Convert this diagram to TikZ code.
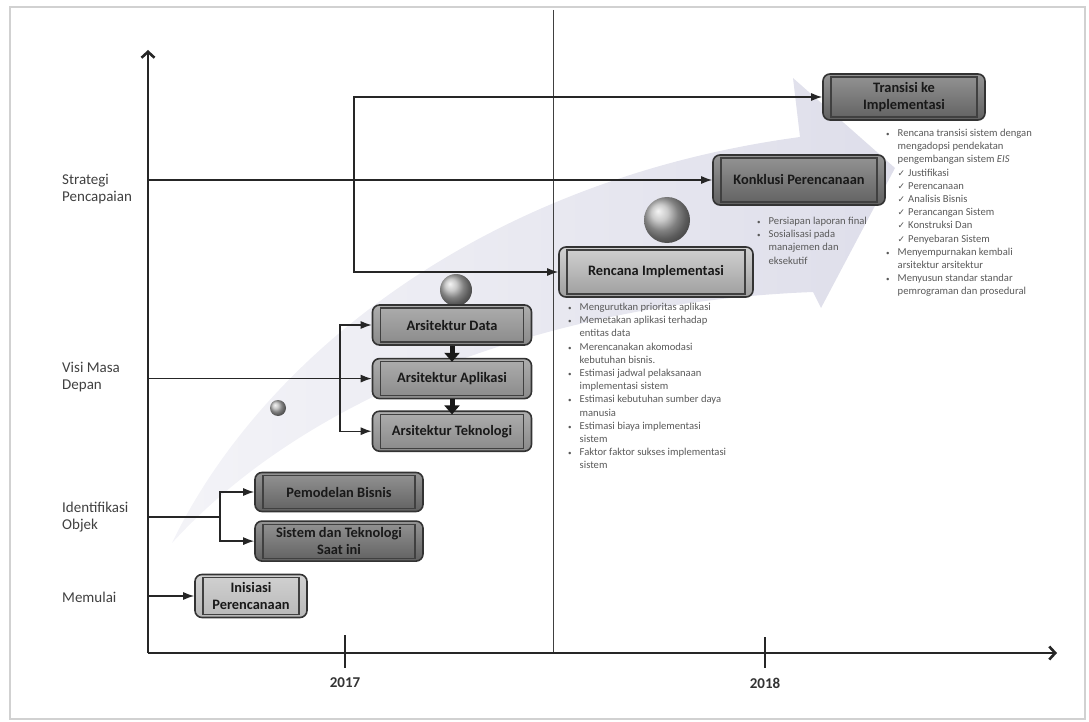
\documentclass[tikz,border=0pt]{standalone}
\usepackage{fontspec}
\setmainfont{Carlito}
\newfontfamily\simbol{DejaVu Sans}
\usetikzlibrary{arrows.meta,positioning}
\definecolor{pita}{RGB}{222,222,234}
\newcommand{\butir}{{\fontsize{7}{7}\selectfont\textbullet}}
\newcommand{\cek}{{\simbol\fontsize{9}{9}\selectfont ✓}\hspace{3pt}}
\tikzset{
  tahap/.style = {draw=black!80, line width=1.6pt, rounded corners=7pt, align=center,
    font=\fontsize{14.4}{17}\selectfont\bfseries, text=black!90, inner sep=2pt,
    path picture={\draw[black!75, line width=1.1pt, sharp corners]
      ([shift={(8pt,-3pt)}]path picture bounding box.north west) rectangle
      ([shift={(-8pt,3pt)}]path picture bounding box.south east);}},
  tahap_g/.style = {tahap, top color=black!42, bottom color=black!62},% tahap gelap
  tahap_s/.style = {tahap, top color=black!32, bottom color=black!46},% tahap sedang
  tahap_t/.style = {tahap, top color=black!18, bottom color=black!38},% tahap terang
  tahap_p/.style = {tahap, top color=black!18, bottom color=black!28},% tahap pucat
  catatan/.style = {anchor=north west, inner sep=0pt, text=black!65,
    font=\fontsize{10.6}{13.2}\selectfont},
  label_y/.style = {anchor=west, align=left, inner sep=0pt, text=black!75,
    font=\fontsize{15}{17.5}\selectfont},
  tahun/.style = {font=\fontsize{15}{17}\selectfont\bfseries, text=black!80},
  hubung/.style = {line width=1.3pt, black!85}
}

\begin{document}
\begin{tikzpicture}[x=1pt,y=-1pt,>={Latex[length=11pt,width=8pt]}]
  \useasboundingbox (0,0) rectangle (1089,722);
  \draw[black!18, line width=1.2pt] (10,7) rectangle (1085,719);

  % panah lengkung di belakang
  \path[left color=pita!35, right color=pita]
    (172,543) .. controls (260,360) and (480,180) .. (800,137) -- (793,78) -- (895,168)
    -- (821,308) -- (813,292) .. controls (600,300) and (330,370) .. (172,543) -- cycle;
  \shade[ball color=black!28] (278,408) circle (8pt);
  \shade[ball color=black!28] (456,290) circle (16pt);
  \shade[ball color=black!28] (667,220) circle (23pt);

  % sumbu
  \coordinate (O) at (148,653);
  \coordinate (ytop) at (148,50);
  \coordinate (xend) at (1057,653);
  \coordinate (batas) at (553,10);
  \draw[black!75, line width=1pt] (batas) -- (batas |- O);

  % tahap
  \node[tahap_g, minimum width=162pt, minimum height=46pt] (Transisi) at (904,97) {Transisi ke\\Implementasi};
  \node[tahap_g, minimum width=172pt, minimum height=50pt] (Konklusi) at (799,180) {Konklusi Perencanaan};
  \node[tahap_t, minimum width=194pt, minimum height=50pt] (Rencana) at (656,272) {Rencana Implementasi};
  \node[tahap_s, minimum width=159pt, minimum height=40pt] (Data) at (452,325) {Arsitektur Data};
  \node[tahap_s, minimum width=159pt, minimum height=40pt, below=12pt of Data] (Aplikasi) {Arsitektur Aplikasi};
  \node[tahap_s, minimum width=159pt, minimum height=40pt, below=11pt of Aplikasi] (Tekno) {Arsitektur Teknologi};
  \node[tahap_g, minimum width=168pt, minimum height=39pt] (Pemodelan) at (339,492) {Pemodelan Bisnis};
  \node[tahap_g, minimum width=168pt, minimum height=40pt, below=8pt of Pemodelan] (Sistem) {Sistem dan Teknologi\\Saat ini};
  \node[tahap_p, minimum width=112pt, minimum height=43pt] (Inisiasi) at (251,596) {Inisiasi\\Perencanaan};

  \draw[black!90, line width=5pt, -{Triangle[length=9pt,width=15pt]}] (Data.south) -- ([yshift=-4pt]Aplikasi.north);
  \draw[black!90, line width=5pt, -{Triangle[length=9pt,width=15pt]}] (Aplikasi.south) -- ([yshift=-4pt]Tekno.north);

  % penghubung
  \coordinate (lup) at (354,182);
  \coordinate (cabArs) at (340,377);
  \coordinate (cabObj) at (220,517);
  \draw[hubung, ->] (O |- Konklusi.west) -- (Konklusi.west);
  \draw[hubung, ->] (lup) |- (Transisi.west);
  \draw[hubung, ->] (lup) |- (Rencana.west);
  \draw[hubung, ->] (O |- Aplikasi.west) -- (Aplikasi.west);
  \draw[hubung, ->] (cabArs) |- (Data.west);
  \draw[hubung, ->] (cabArs) |- (Tekno.west);
  \draw[hubung] (O |- cabObj) -- (cabObj);
  \draw[hubung, ->] (cabObj) |- (Pemodelan.west);
  \draw[hubung, ->] (cabObj) |- (Sistem.west);
  \draw[hubung, ->] (O |- Inisiasi.west) -- (Inisiasi.west);

  % sumbu di atas
  \draw[line width=2.6pt, black!85, -{Straight Barb[length=6pt,width=13pt]}] (O) -- (ytop);
  \draw[line width=2.6pt, black!85, -{Straight Barb[length=6pt,width=13pt]}] (O) -- (xend);
  \node[tahun] (t2017) at (345,683) {2017};
  \node[tahun] (t2018) at (765,683) {2018};
  \draw[line width=2.4pt, black!85] (t2017 |- 0,635) -- (t2017 |- 0,668);
  \draw[line width=2.4pt, black!85] (t2018 |- 0,637) -- (t2018 |- 0,668);

  % label sumbu y
  \node[label_y] (lStrategi) at (62,189) {Strategi\\Pencapaian};
  \node[label_y] (lVisi) at (62,377) {Visi Masa\\Depan};
  \node[label_y] (lObjek) at (62,517) {Identifikasi\\Objek};
  \node[label_y] (lMulai) at (62,597) {Memulai};

  % catatan tiap tahap
  \node[catatan] (cTransisi) at (886,127) {\begin{tabular}{@{}l@{\hspace{8pt}}l@{}}
    \butir & Rencana transisi sistem dengan\\
     & mengadopsi pendekatan\\
     & pengembangan sistem \textit{EIS}\\
     & \cek Justifikasi\\
     & \cek Perencanaan\\
     & \cek Analisis Bisnis\\
     & \cek Perancangan Sistem\\
     & \cek Konstruksi Dan\\
     & \cek Penyebaran Sistem\\
    \butir & Menyempurnakan kembali\\
     & arsitektur arsitektur\\
    \butir & Menyusun standar standar\\
     & pemrograman dan prosedural
  \end{tabular}};
  \node[catatan] (cKonklusi) at (757,215) {\begin{tabular}{@{}l@{\hspace{8pt}}l@{}}
    \butir & Persiapan laporan final\\
    \butir & Sosialisasi pada\\
     & manajemen dan\\
     & eksekutif
  \end{tabular}};
  \node[catatan] (cRencana) at (568,301) {\begin{tabular}{@{}l@{\hspace{8pt}}l@{}}
    \butir & Mengurutkan prioritas aplikasi\\
    \butir & Memetakan aplikasi terhadap\\
     & entitas data\\
    \butir & Merencanakan akomodasi\\
     & kebutuhan bisnis.\\
    \butir & Estimasi jadwal pelaksanaan\\
     & implementasi sistem\\
    \butir & Estimasi kebutuhan sumber daya\\
     & manusia\\
    \butir & Estimasi biaya implementasi\\
     & sistem\\
    \butir & Faktor faktor sukses implementasi\\
     & sistem
  \end{tabular}};
\end{tikzpicture}
\end{document}
